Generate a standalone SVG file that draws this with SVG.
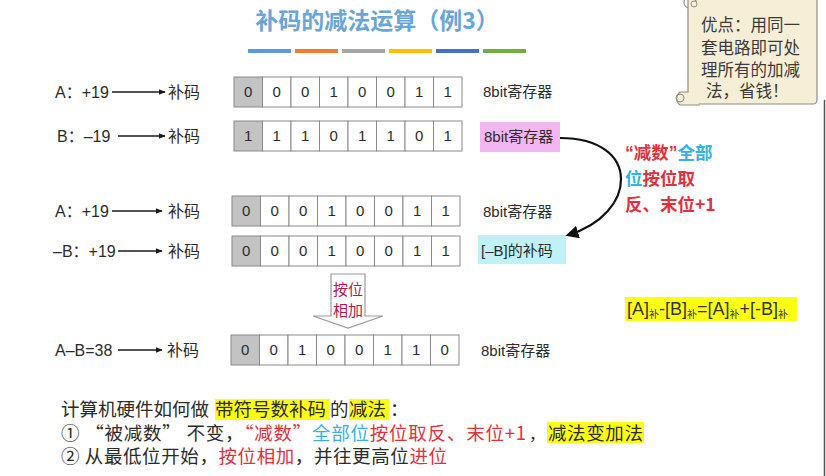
<svg xmlns="http://www.w3.org/2000/svg" width="826" height="476" viewBox="0 0 826 476">
<defs>
<style>
text{font-family:"Liberation Sans","Noto Sans CJK SC",sans-serif;fill:#2b2b2b}
.cjk{font-family:"Noto Sans CJK SC","Liberation Sans",sans-serif}
.lat{font-family:"Liberation Sans",sans-serif}
.lbl{font-size:16px}
.rg{font-size:15px}
.bm{font-size:16px}
.dg{font-size:15px;text-anchor:middle}
.cell{fill:#fff;stroke:#8a8a8a;stroke-width:1}
.c0{fill:#c3c3c3;stroke:#8a8a8a;stroke-width:1}
.ar{stroke:#1a1a1a;stroke-width:1.3;fill:none;marker-end:url(#ah)}
.red{fill:#e3303c}
.blu{fill:#35b2e3}
.hl{fill:#ffff14}
.sb{font-family:"Noto Sans CJK SC",sans-serif;font-size:10px}
.sm{font-size:18.5px}
.nt{font-size:16.5px;fill:#3a3a3a}
</style>
<marker id="ah" viewBox="0 0 10 10" refX="9" refY="5" markerWidth="7" markerHeight="7" orient="auto" markerUnits="userSpaceOnUse">
<path d="M0,1 L10,5 L0,9 Z" fill="#1a1a1a"/>
</marker>
<marker id="ahb" viewBox="0 0 10 10" refX="8" refY="5" markerWidth="13" markerHeight="13" orient="auto" markerUnits="userSpaceOnUse">
<path d="M0,0 L10,5 L0,10 Z" fill="#111"/>
</marker>
<g id="cells">
<rect class="c0" x="0" y="0" width="28.5" height="30"/>
<rect class="cell" x="28.5" y="0" width="28.5" height="30"/>
<rect class="cell" x="57" y="0" width="28.5" height="30"/>
<rect class="cell" x="85.5" y="0" width="28.5" height="30"/>
<rect class="cell" x="114" y="0" width="28.5" height="30"/>
<rect class="cell" x="142.5" y="0" width="28.5" height="30"/>
<rect class="cell" x="171" y="0" width="28.5" height="30"/>
<rect class="cell" x="199.5" y="0" width="28.5" height="30"/>
</g>
</defs>
<rect width="826" height="476" fill="#fff"/>
<line x1="824.5" y1="100" x2="824.5" y2="476" stroke="#555" stroke-width="1.5"/>

<g id="title">
<text x="377" y="29" class="cjk" style="font-size:23px;font-weight:bold;fill:#6aa5d8;text-anchor:middle">补码的减法运算（例3）</text>
<rect x="248" y="49" width="43" height="4" fill="#5b9bd5"/>
<rect x="295" y="49" width="43" height="4" fill="#ed7d31"/>
<rect x="342" y="49" width="43" height="4" fill="#a5a5a5"/>
<rect x="389" y="49" width="43" height="4" fill="#ffc000"/>
<rect x="436" y="49" width="43" height="4" fill="#4472c4"/>
<rect x="483" y="49" width="43" height="4" fill="#70ad47"/>
</g>

<g id="note">
<rect x="688" y="-4" width="129" height="108" rx="4" fill="#f6eed6" stroke="#8e8e84" stroke-width="1.2"/>
<path d="M688,8 a6,6 0 1 1 8,-6" fill="none" stroke="#8e8e84" stroke-width="1.2"/>
<circle cx="694" cy="4" r="3" fill="none" stroke="#8e8e84" stroke-width="1"/>
<path d="M688,92 L680,92 a8,8 0 0 0 0,13 L700,105" fill="#f6eed6" stroke="#8e8e84" stroke-width="1.2"/>
<circle cx="680" cy="98" r="4" fill="none" stroke="#8e8e84" stroke-width="1"/>
<text x="701" y="31" class="cjk nt">优点：用同一</text>
<text x="701" y="54" class="cjk nt">套电路即可处</text>
<text x="701" y="76" class="cjk nt">理所有的加减</text>
<text x="706" y="97" class="cjk nt">法，省钱！</text>
</g>

<g id="row1">
<text x="55" y="98" class="lbl">A：+19</text>
<text x="168" y="98" class="bm cjk">补码</text>
<g transform="translate(234,77)"><use href="#cells"/>
<text class="dg" x="14.25" y="20">0</text><text class="dg" x="42.75" y="20">0</text><text class="dg" x="71.25" y="20">0</text><text class="dg" x="99.75" y="20">1</text><text class="dg" x="128.25" y="20">0</text><text class="dg" x="156.75" y="20">0</text><text class="dg" x="185.25" y="20">1</text><text class="dg" x="213.75" y="20">1</text></g>
<text x="483" y="97" class="rg">8bit寄存器</text>
</g>

<g id="row2">
<text x="57" y="142" class="lbl">B：–19</text>
<text x="168" y="142" class="bm cjk">补码</text>
<g transform="translate(234,121)"><use href="#cells"/>
<text class="dg" x="14.25" y="20">1</text><text class="dg" x="42.75" y="20">1</text><text class="dg" x="71.25" y="20">1</text><text class="dg" x="99.75" y="20">0</text><text class="dg" x="128.25" y="20">1</text><text class="dg" x="156.75" y="20">1</text><text class="dg" x="185.25" y="20">0</text><text class="dg" x="213.75" y="20">1</text></g>
<rect x="480" y="122" width="80" height="30" fill="#f3b6f3"/>
<text x="484" y="142" class="rg">8bit寄存器</text>
</g>

<g id="row3">
<text x="55" y="217" class="lbl">A：+19</text>
<text x="168" y="217" class="bm cjk">补码</text>
<g transform="translate(232,196)"><use href="#cells"/>
<text class="dg" x="14.25" y="20">0</text><text class="dg" x="42.75" y="20">0</text><text class="dg" x="71.25" y="20">0</text><text class="dg" x="99.75" y="20">1</text><text class="dg" x="128.25" y="20">0</text><text class="dg" x="156.75" y="20">0</text><text class="dg" x="185.25" y="20">1</text><text class="dg" x="213.75" y="20">1</text></g>
<text x="483" y="217" class="rg">8bit寄存器</text>
</g>

<g id="row4">
<text x="53" y="257" class="lbl">–B：+19</text>
<text x="168" y="257" class="bm cjk">补码</text>
<g transform="translate(232,236)"><use href="#cells"/>
<text class="dg" x="14.25" y="20">0</text><text class="dg" x="42.75" y="20">0</text><text class="dg" x="71.25" y="20">0</text><text class="dg" x="99.75" y="20">1</text><text class="dg" x="128.25" y="20">0</text><text class="dg" x="156.75" y="20">0</text><text class="dg" x="185.25" y="20">1</text><text class="dg" x="213.75" y="20">1</text></g>
<rect x="478" y="235" width="88" height="29" fill="#bff2f7"/>
<text x="481" y="256" class="rg">[–B]的补码</text>
</g>

<g id="adder">
<polygon points="331,274 365,274 365,316 383,316 348,328 313,316 331,316" fill="#fff" stroke="#9a9a9a" stroke-width="1.2"/>
<text x="348" y="295" class="cjk" style="font-size:15px;fill:#b3174e;text-anchor:middle">按位</text>
<text x="348" y="316" class="cjk" style="font-size:15px;fill:#b3174e;text-anchor:middle">相加</text>
</g>

<g id="row5">
<text x="55" y="356" class="lbl">A–B=38</text>
<text x="167" y="356" class="bm cjk">补码</text>
<g transform="translate(231,335)"><use href="#cells"/>
<text class="dg" x="14.25" y="20">0</text><text class="dg" x="42.75" y="20">0</text><text class="dg" x="71.25" y="20">1</text><text class="dg" x="99.75" y="20">0</text><text class="dg" x="128.25" y="20">0</text><text class="dg" x="156.75" y="20">1</text><text class="dg" x="185.25" y="20">1</text><text class="dg" x="213.75" y="20">0</text></g>
<text x="481" y="356" class="rg">8bit寄存器</text>
</g>

<g id="negnote">
<text x="625" y="159" class="cjk" style="font-size:17.5px;font-weight:bold"><tspan class="red lat">“</tspan><tspan class="red">减数</tspan><tspan class="red lat">”</tspan><tspan class="blu">全部</tspan></text>
<text x="625" y="185" class="cjk" style="font-size:17.5px;font-weight:bold"><tspan class="blu">位</tspan><tspan class="red">按位取</tspan></text>
<text x="625" y="211" class="cjk red" style="font-size:17.5px;font-weight:bold">反、末位+1</text>
</g>

<g id="formula">
<rect x="625" y="297" width="172" height="24" class="hl"/>
<text x="627" y="315" style="font-size:18px;fill:#333">[A]<tspan class="sb" dy="3">补</tspan><tspan dy="-3">-[B]</tspan><tspan class="sb" dy="3">补</tspan><tspan dy="-3">=[A]</tspan><tspan class="sb" dy="3">补</tspan><tspan dy="-3">+[-B]</tspan><tspan class="sb" dy="3">补</tspan></text>
</g>

<g id="summary">
<rect x="215" y="399" width="115" height="21" class="hl"/>
<rect x="349" y="399" width="40" height="21" class="hl"/>
<rect x="547" y="422" width="97" height="21" class="hl"/>
<text y="416" class="cjk sm"><tspan x="61">计算机硬件如何做</tspan><tspan x="215">带符号数补码</tspan><tspan x="330">的</tspan><tspan x="349">减法</tspan><tspan x="390">：</tspan></text>
<text x="61" y="440" class="cjk sm" textLength="465" lengthAdjust="spacing">① “被减数” 不变，<tspan class="red">“减数”</tspan><tspan class="blu">全部位</tspan><tspan class="red">按位取反、末位+1</tspan></text>
<text x="529" y="440" class="cjk" style="font-size:16px">，</text>
<text x="548" y="440" class="cjk sm" textLength="95" lengthAdjust="spacing">减法变加法</text>
<text x="61" y="463" class="cjk sm" textLength="386" lengthAdjust="spacing">② 从最低位开始，<tspan class="red">按位相加</tspan>，并往更高位<tspan class="red">进位</tspan></text>
</g>

<g id="connectors">
<line x1="112" y1="92" x2="165" y2="92" class="ar"/>
<line x1="118" y1="136" x2="165" y2="136" class="ar"/>
<line x1="112" y1="211" x2="162" y2="211" class="ar"/>
<line x1="118" y1="251" x2="162" y2="251" class="ar"/>
<line x1="118" y1="350" x2="162" y2="350" class="ar"/>
<path d="M560,138 C642,138 638,214 568,235" fill="none" stroke="#111" stroke-width="2.2" marker-end="url(#ahb)"/>
</g>
</svg>
